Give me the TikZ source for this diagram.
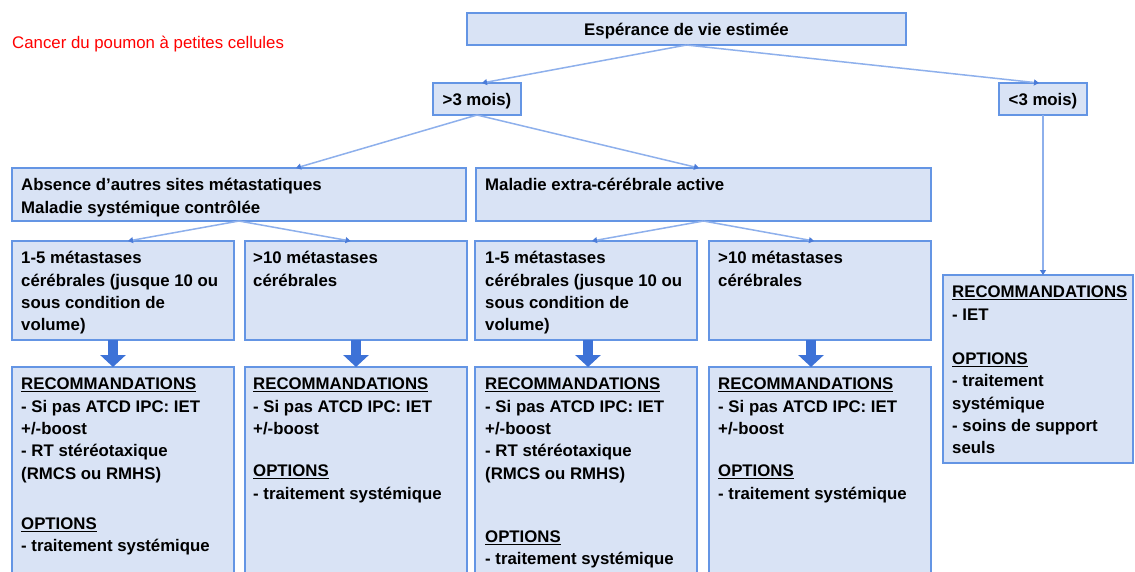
\documentclass[tikz,border=0pt]{standalone}
\usepackage{fontspec}
\setmainfont{Liberation Sans}
\usetikzlibrary{arrows.meta,calc}
\definecolor{bfill}{HTML}{D9E3F5}
\definecolor{bline}{HTML}{6495E4}
\definecolor{connc}{HTML}{8EB0EC}
\definecolor{tipc}{HTML}{4A7BD8}
\definecolor{fatc}{HTML}{3D72D7}
\definecolor{titlered}{HTML}{FF0000}
\begin{document}
\begin{tikzpicture}[x=1pt,y=-1pt,
  box/.style={draw=bline, fill=bfill, line width=1.8pt, inner sep=0pt, outer sep=0pt},
  nwbox/.style={box, anchor=north west},
  txt/.style={inner sep=0pt, anchor=north west, align=left, font=\fontsize{16.8}{22.3}\selectfont\bfseries, text=black},
  ctxt/.style={font=\fontsize{16.8}{22.3}\selectfont\bfseries, text=black, text height=16pt, text depth=3.5pt},
  conn/.style={draw=connc, line width=1.5pt, -{Triangle[width=6pt,length=5pt,color=tipc]}},
  fat/.style={draw=fatc, line width=10pt, -{Triangle[width=25pt,length=12pt]}}]
\useasboundingbox (0,0) rectangle (1135,571);
\fill[white] (0,0) rectangle (1135,571);

% title
\node[anchor=base west, inner sep=0pt, font=\fontsize{16.8}{20}\selectfont, text=titlered] (title) at (12,48) {Cancer du poumon à petites cellules};

% top boxes
\node[nwbox, ctxt, minimum width=439pt, minimum height=32pt] (top) at (467,13) {Espérance de vie estimée};
\node[nwbox, ctxt, minimum width=88pt, minimum height=32pt] (gt) at (433,83) {>3 mois)};
\node[nwbox, ctxt, minimum width=88pt, minimum height=32pt] (lt) at (999,83) {<3 mois)};

% second row
\node[nwbox, minimum width=454pt, minimum height=53pt] (absn) at (12,168) {};
\node[txt] (absnt) at (21,175) {\strut Absence d’autres sites métastatiques\\Maladie systémique contrôlée};
\node[nwbox, minimum width=455pt, minimum height=53pt] (mal) at (476,168) {};
\node[txt] (malt) at (485,175) {\strut Maladie extra-cérébrale active};

% third row
\node[nwbox, minimum width=222pt, minimum height=99pt] (a3) at (12,241) {};
\node[txt] (a3t) at (21,248) {\strut 1-5 métastases\\cérébrales (jusque 10 ou\\sous condition de\\volume)};
\node[nwbox, minimum width=222pt, minimum height=99pt] (b3) at (245,241) {};
\node[txt] (b3t) at (253,248) {\strut >10 métastases\\cérébrales};
\node[nwbox, minimum width=222pt, minimum height=99pt] (c3) at (475,241) {};
\node[txt] (c3t) at (485,248) {\strut 1-5 métastases\\cérébrales (jusque 10 ou\\sous condition de\\volume)};
\node[nwbox, minimum width=222pt, minimum height=99pt] (d3) at (709,241) {};
\node[txt] (d3t) at (718,248) {\strut >10 métastases\\cérébrales};

% fourth row
\node[nwbox, minimum width=222pt, minimum height=220pt] (a4) at (12,367) {};
\node[txt] (a4t) at (21,374) {\strut\underline{RECOMMANDATIONS}\\- Si pas ATCD IPC: IET\\+/-boost\\- RT stéréotaxique\\(RMCS ou RMHS)\\[28.2pt]\underline{OPTIONS}\\- traitement systémique};
\node[nwbox, minimum width=222pt, minimum height=220pt] (b4) at (245,367) {};
\node[txt] (b4t) at (253,374) {\strut\underline{RECOMMANDATIONS}\\- Si pas ATCD IPC: IET\\+/-boost\\[20.2pt]\underline{OPTIONS}\\- traitement systémique};
\node[nwbox, minimum width=222pt, minimum height=220pt] (c4) at (475,367) {};
\node[txt] (c4t) at (485,374) {\strut\underline{RECOMMANDATIONS}\\- Si pas ATCD IPC: IET\\+/-boost\\- RT stéréotaxique\\(RMCS ou RMHS)\\[40.9pt]\underline{OPTIONS}\\- traitement systémique};
\node[nwbox, minimum width=222pt, minimum height=220pt] (d4) at (709,367) {};
\node[txt] (d4t) at (718,374) {\strut\underline{RECOMMANDATIONS}\\- Si pas ATCD IPC: IET\\+/-boost\\[20.2pt]\underline{OPTIONS}\\- traitement systémique};

% right box
\node[nwbox, minimum width=190pt, minimum height=188pt] (r4) at (943,275) {};
\node[txt] (r4t) at (952,282) {\strut\underline{RECOMMANDATIONS}\\- IET\\[22pt]\underline{OPTIONS}\\- traitement\\systémique\\- soins de support\\seuls};

% thin connectors
\draw[conn] (top.south) -- ([xshift=5pt]gt.north);
\draw[conn] (top.south) -- ([xshift=-4pt]lt.north);
\draw[conn] (gt.south) -- ([xshift=57pt]absn.north);
\draw[conn] (gt.south) -- ([xshift=-4.5pt]mal.north);
\draw[conn] (absn.south) -- ([xshift=5pt]a3.north);
\draw[conn] (absn.south) -- ([xshift=-5.5pt]b3.north);
\draw[conn] (mal.south) -- ([xshift=6pt]c3.north);
\draw[conn] (mal.south) -- ([xshift=-6pt]d3.north);
\draw[conn] (lt.south) -- (lt.south |- r4.north);

% thick arrows
\draw[fat] ([xshift=-10pt]a3.south) -- ([xshift=-10pt]a4.north);
\draw[fat] (b3.south) -- (b4.north);
\draw[fat] ([xshift=2pt]c3.south) -- ([xshift=2pt]c4.north);
\draw[fat] ([xshift=-9pt]d3.south) -- ([xshift=-9pt]d4.north);
\end{tikzpicture}
\end{document}
